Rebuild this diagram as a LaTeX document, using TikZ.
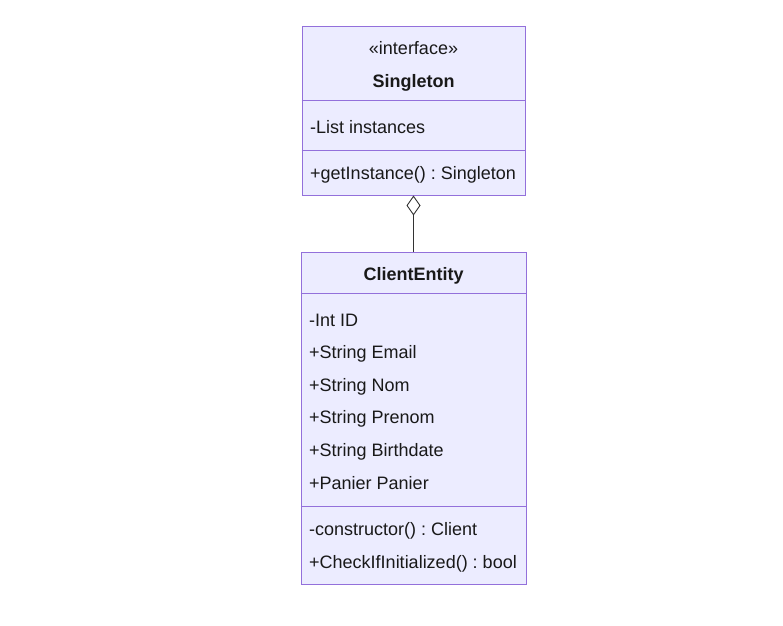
\documentclass[tikz,border=0pt]{standalone}
\usepackage{fontspec}
\setmainfont{Liberation Sans}
\usetikzlibrary{arrows.meta}
\frenchspacing
\definecolor{umlfill}{HTML}{ECECFF}
\definecolor{umlline}{HTML}{9370DB}
\definecolor{linkcol}{HTML}{333333}
\tikzset{
  classbox/.style={rectangle, draw=umlline, fill=umlfill, line width=1pt, inner sep=0pt},
  member/.style={anchor=base west, inner sep=0pt, font=\fontsize{18}{20}\selectfont, text=black!90},
  title/.style={anchor=base, inner sep=0pt, font=\fontsize{18}{20}\selectfont, text=black!90},
  aggr/.style={draw=linkcol, line width=0.9pt, -{Diamond[open, fill=white, length=20pt, width=14pt]}}
}
\begin{document}
\begin{tikzpicture}[x=1pt, y=-1pt]
      \useasboundingbox (0,0) rectangle (783,625);

      %%%%% Singleton
      \node[classbox, minimum width=223pt, minimum height=169pt] (single) at (413.5, 110.5) {};
      \draw[umlline, line width=1pt] (single.west |- 0,100) -- (single.east |- 0,100);
      \draw[umlline, line width=1pt] (single.west |- 0,150) -- (single.east |- 0,150);
      \node[title] (stereo) at (413.5, 54) {«interface»};
      \node[title, font=\fontsize{18}{20}\selectfont\bfseries] (singlename) at (413.5, 87) {Singleton};
      \node[member] (sattr) at (310, 133) {-List instances};
      \node[member] (smeth) at (310, 179) {+getInstance() : Singleton};

      %%%%% ClientEntity
      \node[classbox, minimum width=225pt, minimum height=332pt] (client) at (413.5, 418) {};
      \draw[umlline, line width=1pt] (client.west |- 0,293) -- (client.east |- 0,293);
      \draw[umlline, line width=1pt] (client.west |- 0,506) -- (client.east |- 0,506);
      \node[title, font=\fontsize{18}{20}\selectfont\bfseries] (clientname) at (413.5, 280) {ClientEntity};

      % attributes
      \foreach \txt [count=\i] in {-Int ID, +String Email, +String Nom, +String Prenom, +String Birthdate, +Panier Panier}
        \node[member] (cattr\i) at (309, {326 + 32.6*(\i-1)}) {\txt};

      % methods
      \node[member] (cmeth1) at (309, 535) {-constructor() : Client};
      \node[member] (cmeth2) at (309, 568) {+CheckIfInitialized() : bool};

      % aggregation
      \draw[aggr] (client.north) -- (single.south);
\end{tikzpicture}
\end{document}
